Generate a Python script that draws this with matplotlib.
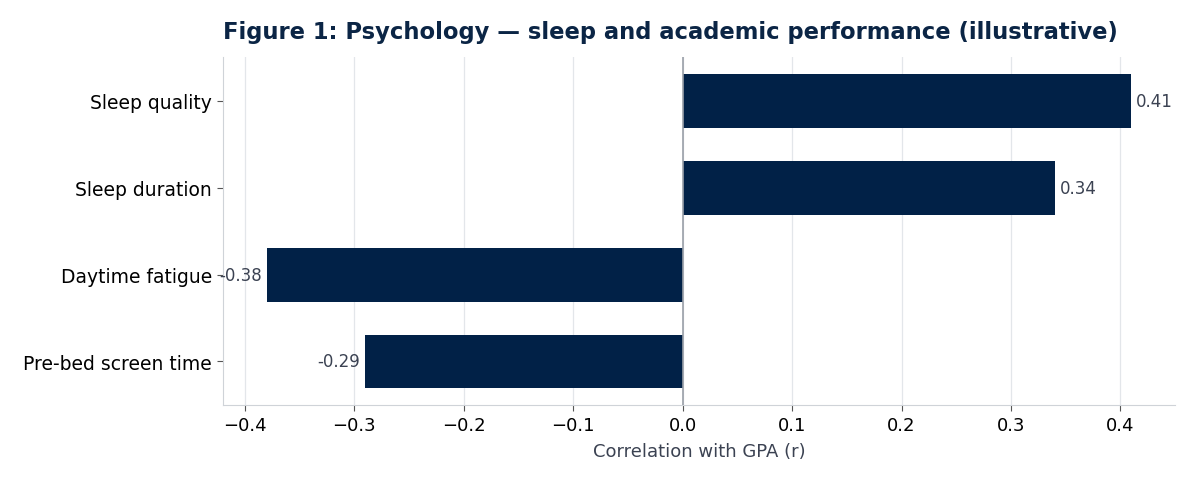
import matplotlib.pyplot as plt

plt.rcParams["font.family"] = ["DejaVu Sans"]

factors = ["Sleep quality", "Sleep duration", "Daytime fatigue", "Pre-bed screen time"]
correlations = [0.41, 0.34, -0.38, -0.29]
value_labels = ["0.41", "0.34", "-0.38", "-0.29"]
xticks = [-0.4, -0.3, -0.2, -0.1, 0.0, 0.1, 0.2, 0.3, 0.4]

bar_color = "#012147"
text_gray = "#3b4252"

fig = plt.figure(figsize=(11.96, 4.81), dpi=100)
ax = fig.add_axes([0.1865, 0.156, 0.796, 0.723])

ypos = list(range(len(factors)))[::-1]
ax.barh(ypos, correlations, height=0.62, color=bar_color, zorder=3)

ax.axvline(0, color="#9aa0a8", linewidth=1.2, zorder=4)
ax.grid(axis="x", color="#e3e6ea", linewidth=0.9, zorder=0)
ax.set_axisbelow(True)

# подписи значений у концов столбцов
for y, v, lab in zip(ypos, correlations, value_labels):
    if v >= 0:
        ax.annotate(lab, (v, y), xytext=(3.5, 0), textcoords="offset points",
                    ha="left", va="center", fontsize=12, color=text_gray)
    else:
        ax.annotate(lab, (v, y), xytext=(-3.5, 0), textcoords="offset points",
                    ha="right", va="center", fontsize=12, color=text_gray)

ax.set_yticks(ypos)
ax.set_yticklabels(factors, fontsize=13.5)
ax.set_xticks(xticks)
ax.set_xticklabels([f"{t:.1f}".replace("-", "\u2212") for t in xticks], fontsize=13)
ax.set_xlim(-0.42, 0.45)
ax.set_ylim(-0.5, 3.5)

ax.set_xlabel("Correlation with GPA (r)", fontsize=13, color=text_gray, labelpad=6)
ax.set_title("Figure 1: Psychology \u2014 sleep and academic performance (illustrative)",
             fontsize=16.25, fontweight="bold", color="#0b2545", pad=14, loc="left")

for s in ["top", "right"]:
    ax.spines[s].set_visible(False)
for s in ["left", "bottom"]:
    ax.spines[s].set_color("#cfd3d8")
ax.tick_params(axis="both", colors="#555555", labelcolor="black", length=4.5)

fig.savefig("out.png", dpi=100)
